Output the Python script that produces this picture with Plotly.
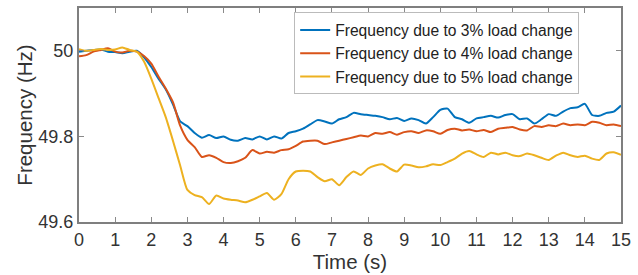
import plotly.graph_objects as go

t = [round(i * 0.2, 1) for i in range(76)]

f3 = [49.998, 50.000, 50.002, 50.003, 49.998, 49.997, 49.994, 49.998, 50.000, 49.985,
      49.962, 49.935, 49.910, 49.875, 49.835, 49.824, 49.808, 49.797, 49.803, 49.796,
      49.800, 49.792, 49.790, 49.796, 49.793, 49.800, 49.793, 49.800, 49.795, 49.808,
      49.812, 49.818, 49.828, 49.838, 49.835, 49.830, 49.840, 49.845, 49.855, 49.852,
      49.850, 49.848, 49.845, 49.840, 49.843, 49.836, 49.842, 49.838, 49.830, 49.845,
      49.862, 49.865, 49.845, 49.840, 49.832, 49.842, 49.845, 49.848, 49.844, 49.850,
      49.852, 49.840, 49.842, 49.830, 49.840, 49.852, 49.848, 49.858, 49.866, 49.868,
      49.876, 49.850, 49.848, 49.855, 49.858, 49.872]

f4 = [49.987, 49.990, 49.998, 50.002, 50.006, 49.998, 49.996, 50.000, 49.998, 49.988,
      49.970, 49.940, 49.912, 49.880, 49.825, 49.792, 49.775, 49.752, 49.756, 49.750,
      49.740, 49.738, 49.742, 49.750, 49.768, 49.760, 49.764, 49.762, 49.768, 49.770,
      49.778, 49.788, 49.790, 49.790, 49.782, 49.786, 49.790, 49.794, 49.798, 49.802,
      49.800, 49.808, 49.806, 49.810, 49.804, 49.810, 49.812, 49.808, 49.814, 49.812,
      49.806, 49.815, 49.818, 49.814, 49.816, 49.812, 49.815, 49.810, 49.818, 49.820,
      49.822, 49.816, 49.814, 49.824, 49.822, 49.826, 49.824, 49.830, 49.826, 49.828,
      49.826, 49.834, 49.832, 49.826, 49.828, 49.824]

f5 = [50.004, 50.000, 50.002, 50.004, 50.002, 50.003, 50.008, 50.002, 49.998, 49.975,
      49.935, 49.890, 49.845, 49.790, 49.732, 49.675, 49.663, 49.658, 49.642, 49.662,
      49.655, 49.652, 49.650, 49.646, 49.652, 49.660, 49.668, 49.652, 49.665, 49.700,
      49.718, 49.720, 49.718, 49.705, 49.695, 49.700, 49.686, 49.705, 49.718, 49.710,
      49.725, 49.732, 49.735, 49.725, 49.718, 49.734, 49.732, 49.728, 49.730, 49.735,
      49.733, 49.740, 49.748, 49.760, 49.766, 49.758, 49.752, 49.762, 49.758, 49.762,
      49.756, 49.754, 49.760, 49.756, 49.750, 49.745, 49.755, 49.762, 49.756, 49.752,
      49.755, 49.748, 49.745, 49.760, 49.763, 49.757]

names = ["Frequency due to 3% load change",
         "Frequency due to 4% load change",
         "Frequency due to 5% load change"]
colors = ["#0072BD", "#D95319", "#EDB120"]
x_ticks = list(range(0, 16))
y_ticks = [49.6, 49.8, 50.0]
y_tick_text = ["49.6", "49.8", "50"]

fig = go.Figure()
for y, n, c in zip([f3, f4, f5], names, colors):
    fig.add_trace(go.Scatter(x=t, y=y, mode="lines", name=n,
                             line=dict(color=c, width=2, shape="spline", smoothing=0.6)))

font = "Liberation Sans, Arial, sans-serif"
axis_common = dict(showline=True, linecolor="#7f7f7f", linewidth=2, mirror="ticks",
                   ticks="inside", ticklen=5, tickcolor="#8a8a8a", tickwidth=1,
                   showgrid=False, zeroline=False, automargin=False,
                   tickfont=dict(family=font, size=18, color="#333333"))

fig.update_layout(
    width=638, height=275,
    margin=dict(l=79, r=17, t=8, b=53),
    paper_bgcolor="white", plot_bgcolor="white",
    font=dict(family=font, color="#333333"),
    xaxis=dict(range=[0, 15], tickvals=x_ticks,
               title=dict(text="Time (s)", font=dict(family=font, size=20.5, color="#333333"), standoff=0),
               **axis_common),
    yaxis=dict(range=[49.6, 50.1], tickvals=y_ticks, ticktext=y_tick_text,
               title=dict(text="Frequency (Hz)", font=dict(family=font, size=20.5, color="#333333"), standoff=0),
               **axis_common),
    legend=dict(x=0.397, y=0.98, xanchor="left", yanchor="top",
                bgcolor="white", bordercolor="#bbbbbb", borderwidth=1,
                font=dict(family=font, size=15.6, color="#222222"),
                itemwidth=30, tracegroupgap=0),
    showlegend=True,
)

fig.write_html("out.html", config={"displayModeBar": False},
               post_script="document.body.style.margin='0';")
